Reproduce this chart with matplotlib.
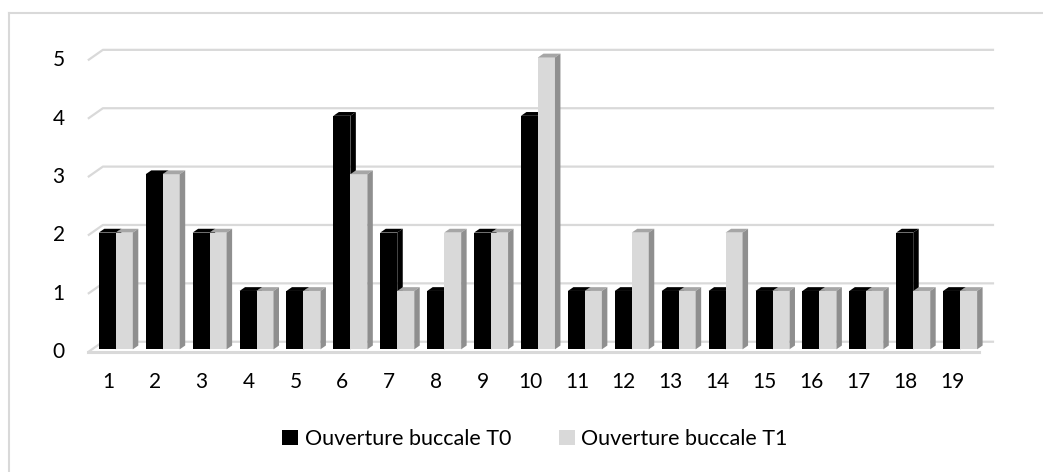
import matplotlib
matplotlib.use("Agg")
import matplotlib.pyplot as plt
from matplotlib.patches import Polygon, Patch
from matplotlib.lines import Line2D

plt.rcParams['font.family'] = ['Lato', 'DejaVu Sans']

# data
categories = [str(i) for i in range(1, 20)]
t0 = [2, 3, 2, 1, 1, 4, 2, 1, 2, 4, 1, 1, 1, 1, 1, 1, 1, 2, 1]
t1 = [2, 3, 2, 1, 1, 3, 1, 2, 2, 5, 1, 2, 1, 2, 1, 1, 1, 1, 1]
labels = ["Ouverture buccale T0", "Ouverture buccale T1"]
y_ticks = [0, 1, 2, 3, 4, 5]

# style
c_t0 = "#000000"
c_t1 = "#d9d9d9"
c_t1_top = "#a6a6a6"
c_t1_side = "#8f8f8f"
c_grid = "#d9d9d9"

W, H = 1043, 472
fig = plt.figure(figsize=(W / 100, H / 100), dpi=100)
# axes box in pixels: left, right, top, bottom
L, R, T, B = 83, 1000, 37, 361
ax = fig.add_axes([L / W, (H - B) / H, (R - L) / W, (B - T) / H])
ax.set_xlim(-0.7, 18.85)
ax.set_ylim(-0.2, 5.35)
ax.axis("off")

w = 0.362          # width of one bar, category units
bdx, bdy = 0.117, 0.065   # bar depth offset
fdx, fdy = -0.096, -0.05  # floor front plane offset
wdx, wdy = 0.224, 0.13    # back wall offset
x_lo, x_hi = -0.5, 18.5

# gridlines on back wall with the left wall diagonal
for v in y_ticks:
    ax.plot([x_lo + fdx, x_lo + wdx, x_hi + wdx], [v + fdy, v + wdy, v + wdy],
            color=c_grid, lw=1.6, zorder=1, solid_capstyle="butt")
# floor front edge
ax.plot([x_lo + fdx, x_hi + fdx], [fdy, fdy], color=c_grid, lw=2.2, zorder=1)

xs = list(range(len(categories)))


def draw_series(x_left, vals, front, top, side, z):
    ax.bar(x_left, vals, width=w, align="edge", color=front, zorder=z, linewidth=0)
    for x0, v in zip(x_left, vals):
        ax.add_patch(Polygon([(x0, v), (x0 + bdx, v + bdy), (x0 + w + bdx, v + bdy), (x0 + w, v)],
                             closed=True, fc=top, ec="none", zorder=z))
        ax.add_patch(Polygon([(x0 + w, 0), (x0 + w + bdx, bdy), (x0 + w + bdx, v + bdy), (x0 + w, v)],
                             closed=True, fc=side, ec="none", zorder=z))


draw_series([x - w for x in xs], t0, c_t0, c_t0, c_t0, 3)
draw_series(xs, t1, c_t1, c_t1_top, c_t1_side, 4)

# axis labels as text
for x, lab in zip(xs, categories):
    ax.text(x - 0.17, -0.565, lab, ha="center", va="center", fontsize=15, color="#000000")
for v in y_ticks:
    ax.text(-1.09, v + fdy, str(v), ha="right", va="center", fontsize=15, color="#000000")

handles = [Patch(fc=c_t0, ec="none"), Patch(fc=c_t1, ec="none")]
fig.legend(handles, labels, loc="center", bbox_to_anchor=(535 / W, 1 - 439 / H), ncol=2,
           frameon=False, fontsize=15.5, handlelength=0.75, handleheight=0.75,
           handletextpad=0.3, columnspacing=2.2)

# chart border (cut off at right and bottom)
fig.add_artist(Line2D([9 / W, 1.0], [1 - 13 / H, 1 - 13 / H], transform=fig.transFigure,
                      color=c_grid, lw=1.5))
fig.add_artist(Line2D([9 / W, 9 / W], [1 - 13 / H, 0], transform=fig.transFigure,
                      color=c_grid, lw=1.5))

fig.savefig("out.png", dpi=100, facecolor="white")
